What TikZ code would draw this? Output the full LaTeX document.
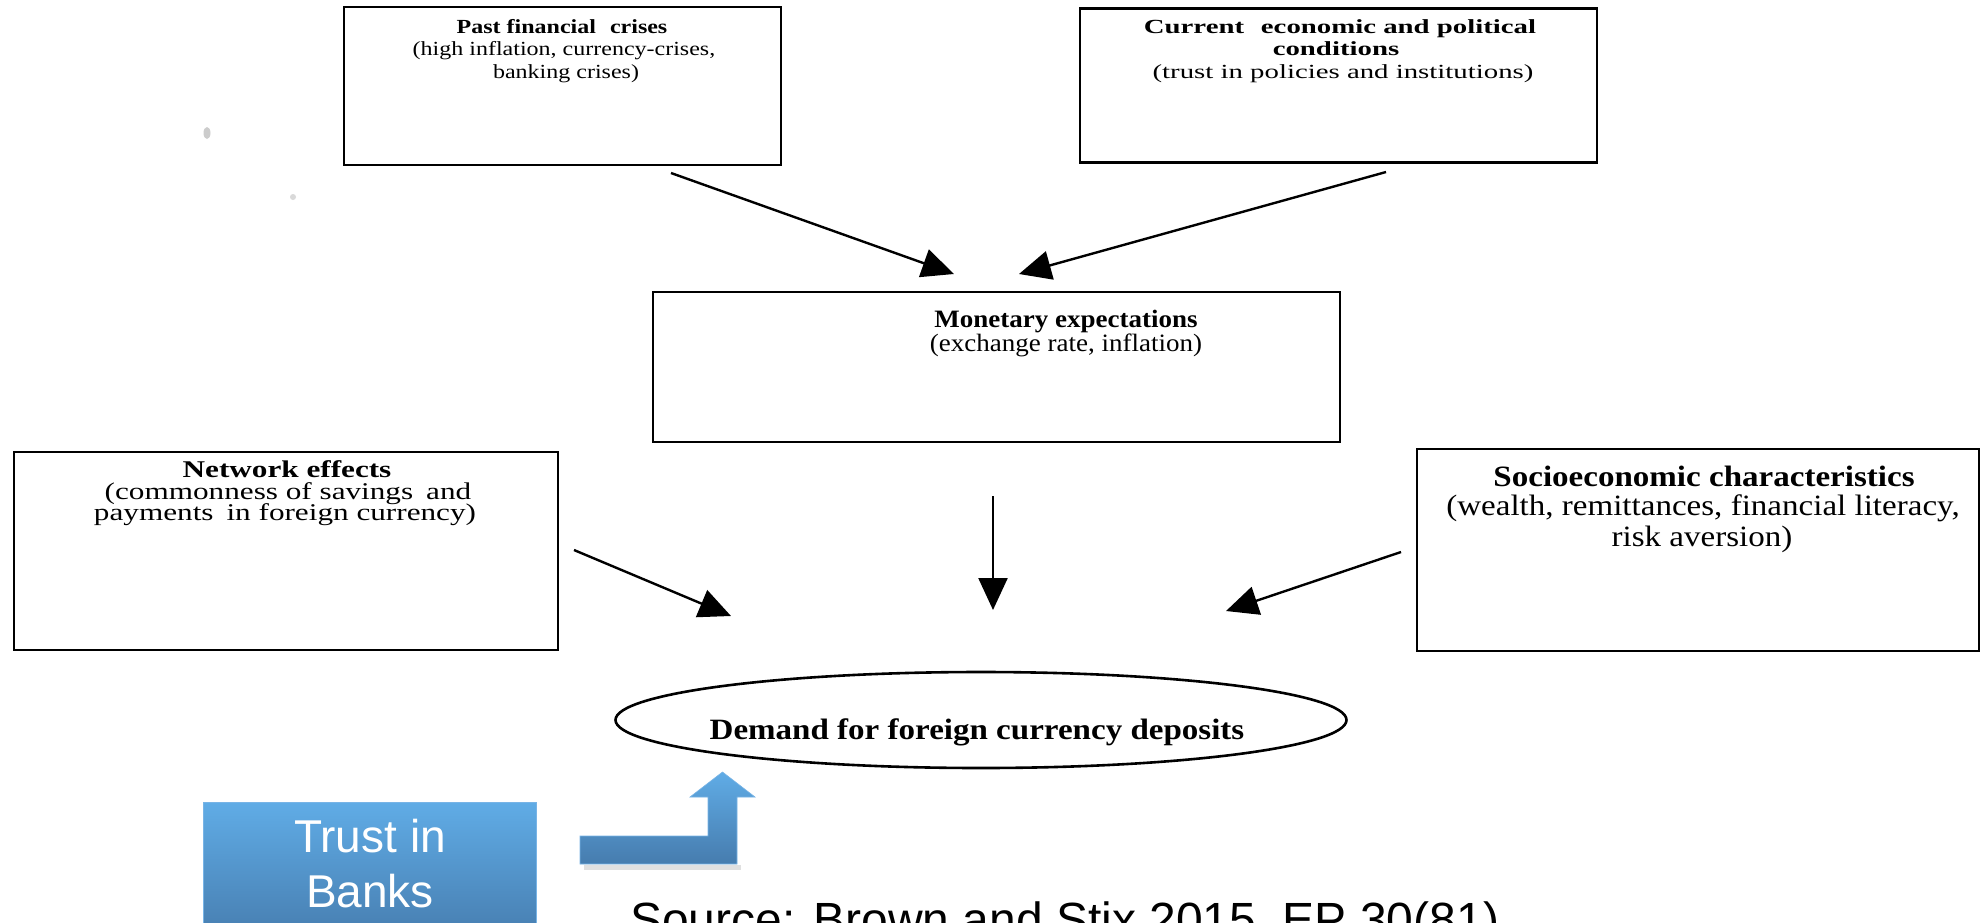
\documentclass[tikz,border=0pt]{standalone}
\usepackage{fontspec}
\usepackage{graphicx}
\setmainfont{Liberation Serif}
\newfontfamily\arialf{Liberation Sans}
\usetikzlibrary{arrows.meta,shapes.geometric}
\definecolor{tblueT}{RGB}{96,172,230}
\definecolor{tblueB}{RGB}{70,124,174}
\definecolor{tedge}{RGB}{120,180,230}
\newcommand{\hsq}[2]{\scalebox{#1}[1]{#2}}
\begin{document}
\begin{tikzpicture}[x=1pt,y=-1pt,
  box/.style={draw=black, line width=2.6pt, inner sep=0pt, outer sep=0pt},
  lbl/.style={anchor=base, inner sep=0pt, outer sep=0pt},
  arr/.style={line width=2.4pt, -{Triangle[length=32pt,width=29pt]}},
  fA/.style={lbl, font=\fontsize{20}{20}\selectfont},
  fB/.style={lbl, font=\fontsize{20}{20}\selectfont},
  fC/.style={lbl, font=\fontsize{25}{25}\selectfont},
  fD/.style={lbl, font=\fontsize{24}{24}\selectfont},
  fE/.style={lbl, font=\fontsize{29.5}{30}\selectfont},
  ]
\useasboundingbox (0,0) rectangle (1982,922);
\fill[white] (0,0) rectangle (1982,922);

% faint smudges
\fill[black!20] (207,133) ellipse (3.5 and 6);
\fill[black!15] (293,197) ellipse (3 and 3);

% boxes
\node[box, minimum width=437pt, minimum height=158pt] (past) at (562.5,86) {};
\node[box, minimum width=517pt, minimum height=154pt] (curr) at (1338.5,85.5) {};
\node[box, minimum width=687pt, minimum height=150pt] (mon) at (996.5,367) {};
\node[box, minimum width=544pt, minimum height=198pt] (net) at (286,551) {};
\node[box, minimum width=562pt, minimum height=202pt] (soc) at (1698,550) {};
\node[box, ellipse, minimum width=731pt, minimum height=96pt] (dem) at (981,720) {};
\node[lbl, fE] (demT) at (977,739) {\hsq{1.12}{\bfseries Demand for foreign currency deposits}};

% box texts
\node[fA] (pastA) at (562,33) {\hsq{1.2}{\bfseries Past financial\,\, crises}};
\node[fA] (pastB) at (564,55.5) {\hsq{1.2}{(high inflation, currency-crises,}};
\node[fA] (pastC) at (566,78) {\hsq{1.2}{banking crises)}};

\node[fB] (currA) at (1340,33) {\hsq{1.44}{\bfseries Current\,\, economic and political}};
\node[fB] (currB) at (1336,55.5) {\hsq{1.44}{\bfseries conditions}};
\node[fB] (currC) at (1343,78) {\hsq{1.44}{(trust in policies and institutions)}};

\node[fC] (monA) at (1066,327) {\hsq{1.08}{\bfseries Monetary expectations}};
\node[fC] (monB) at (1066,351) {\hsq{1.08}{(exchange rate, inflation)}};

\node[fD] (netA) at (287,477) {\hsq{1.3}{\bfseries Network effects}};
\node[fD] (netB) at (288,499) {\hsq{1.3}{(commonness of savings\, and}};
\node[fD] (netC) at (285,520) {\hsq{1.3}{payments\, in foreign currency)}};

\node[fE] (socA) at (1704,486) {\hsq{1.12}{\bfseries Socioeconomic characteristics}};
\node[fE] (socB) at (1703,515) {\hsq{1.12}{(wealth, remittances, financial literacy,}};
\node[fE] (socC) at (1702,546) {\hsq{1.12}{risk aversion)}};

% arrows
\coordinate (a1s) at (671,173); \coordinate (a1e) at (954,274);
\coordinate (a2s) at (1386,172); \coordinate (a2e) at (1019,274);
\coordinate (a3s) at (993,496); \coordinate (a3e) at (993,610);
\coordinate (a4s) at (574,550); \coordinate (a4e) at (731,616);
\coordinate (a5s) at (1401,552); \coordinate (a5e) at (1226,611);
\draw[arr] (a1s) -- (a1e);
\draw[arr] (a2s) -- (a2e);
\draw[arr] (a3s) -- (a3e);
\draw[arr] (a4s) -- (a4e);
\draw[arr] (a5s) -- (a5e);

% trust in banks
\node[minimum width=333pt, minimum height=140pt, top color=tblueT, bottom color=tblueB, draw=tedge, line width=1pt, inner sep=0pt] (trust) at (369.5,872) {};
\node[lbl, font=\arialf\fontsize{46}{46}\selectfont, text=white] (trustA) at (370,852) {Trust in};
\node[lbl, font=\arialf\fontsize{46}{46}\selectfont, text=white] (trustB) at (370,907) {Banks};

% bent arrow
\fill[black!12] (584,865) rectangle (741,870);
\path[top color=tblueT, bottom color=tblueB, draw=tedge, line width=0.6pt]
  (580,836) -- (708,836) -- (708,797) -- (690,797) -- (722.5,772) -- (755,797) -- (737,797) -- (737,864) -- (580,864) -- cycle;

% source
\node[anchor=base west, inner sep=0pt, font=\arialf\fontsize{48}{48}\selectfont] (src) at (630,936) {Source: Brown and Stix 2015, EP 30(81)};
\end{tikzpicture}
\end{document}
